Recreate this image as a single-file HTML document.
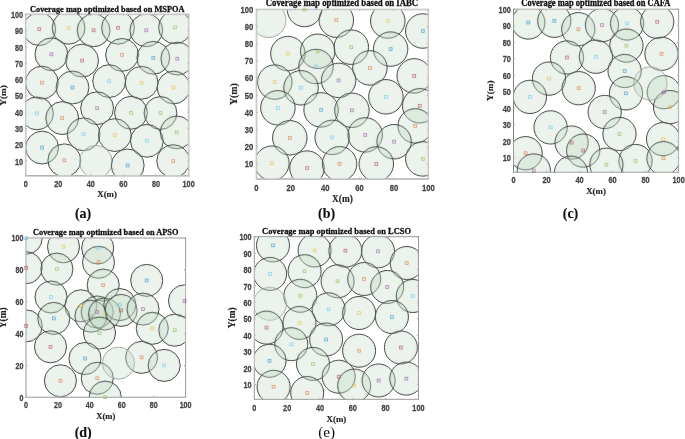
<!DOCTYPE html><html><head><meta charset="utf-8"><style>html,body{margin:0;padding:0;background:#fff;}svg{display:block;will-change:transform;}</style></head><body>
<svg width="685" height="439" viewBox="0 0 685 439">
<rect width="685" height="439" fill="#fff"/>
<defs>
<filter id="bl" x="0" y="0" width="1" height="1" color-interpolation-filters="sRGB"><feConvolveMatrix order="3" kernelMatrix="0.01917 0.10012 0.01917 0.10012 0.52283 0.10012 0.01917 0.10012 0.01917" edgeMode="duplicate" preserveAlpha="true"/></filter>
<clipPath id="ca"><rect x="25.65" y="14.4" width="162.95" height="161.4"/></clipPath>
<clipPath id="cb"><rect x="256.5" y="9.5" width="171.8" height="169.5"/></clipPath>
<clipPath id="cc"><rect x="513.5" y="9.2" width="165.1" height="163"/></clipPath>
<clipPath id="cd"><rect x="26" y="238" width="159.6" height="159.2"/></clipPath>
<clipPath id="ce"><rect x="254.3" y="236.7" width="164.15" height="162.6"/></clipPath>
</defs>
<g filter="url(#bl)">
<g clip-path="url(#ca)">
<circle cx="39.3" cy="29.1" r="16.42" fill="#bed7bf" fill-opacity="0.3" stroke="#303030" stroke-opacity="0.9" stroke-width="1.0"/>
<circle cx="68.6" cy="27.8" r="16.42" fill="#bed7bf" fill-opacity="0.3" stroke="#303030" stroke-opacity="0.9" stroke-width="1.0"/>
<circle cx="93.6" cy="30.3" r="16.42" fill="#bed7bf" fill-opacity="0.3" stroke="#303030" stroke-opacity="0.9" stroke-width="1.0"/>
<circle cx="118" cy="27.8" r="16.42" fill="#bed7bf" fill-opacity="0.3" stroke="#303030" stroke-opacity="0.9" stroke-width="1.0"/>
<circle cx="146.3" cy="30.3" r="16.42" fill="#bed7bf" fill-opacity="0.3" stroke="#303030" stroke-opacity="0.9" stroke-width="1.0"/>
<circle cx="175" cy="27.4" r="16.42" fill="#bed7bf" fill-opacity="0.3" stroke="#303030" stroke-opacity="0.9" stroke-width="1.0"/>
<circle cx="51.4" cy="54.3" r="16.42" fill="#bed7bf" fill-opacity="0.3" stroke="#303030" stroke-opacity="0.9" stroke-width="1.0"/>
<circle cx="82.1" cy="60.6" r="16.42" fill="#bed7bf" fill-opacity="0.3" stroke="#303030" stroke-opacity="0.9" stroke-width="1.0"/>
<circle cx="122.1" cy="54.9" r="16.42" fill="#bed7bf" fill-opacity="0.3" stroke="#303030" stroke-opacity="0.9" stroke-width="1.0"/>
<circle cx="153.3" cy="57.8" r="16.42" fill="#bed7bf" fill-opacity="0.3" stroke="#303030" stroke-opacity="0.9" stroke-width="1.0"/>
<circle cx="177.3" cy="58.6" r="16.42" fill="#bed7bf" fill-opacity="0.3" stroke="#303030" stroke-opacity="0.9" stroke-width="1.0"/>
<circle cx="41.9" cy="82.6" r="16.42" fill="#bed7bf" fill-opacity="0.3" stroke="#303030" stroke-opacity="0.9" stroke-width="1.0"/>
<circle cx="72.5" cy="87.5" r="16.42" fill="#bed7bf" fill-opacity="0.3" stroke="#303030" stroke-opacity="0.9" stroke-width="1.0"/>
<circle cx="109.2" cy="81.1" r="16.42" fill="#bed7bf" fill-opacity="0.3" stroke="#303030" stroke-opacity="0.9" stroke-width="1.0"/>
<circle cx="141.6" cy="82.8" r="16.42" fill="#bed7bf" fill-opacity="0.3" stroke="#303030" stroke-opacity="0.9" stroke-width="1.0"/>
<circle cx="173.6" cy="87.5" r="16.42" fill="#bed7bf" fill-opacity="0.3" stroke="#303030" stroke-opacity="0.9" stroke-width="1.0"/>
<circle cx="37" cy="113.4" r="16.42" fill="#bed7bf" fill-opacity="0.3" stroke="#303030" stroke-opacity="0.9" stroke-width="1.0"/>
<circle cx="62.2" cy="118.1" r="16.42" fill="#bed7bf" fill-opacity="0.3" stroke="#303030" stroke-opacity="0.9" stroke-width="1.0"/>
<circle cx="97.1" cy="108.2" r="16.42" fill="#bed7bf" fill-opacity="0.3" stroke="#303030" stroke-opacity="0.9" stroke-width="1.0"/>
<circle cx="131" cy="112.8" r="16.42" fill="#bed7bf" fill-opacity="0.3" stroke="#303030" stroke-opacity="0.9" stroke-width="1.0"/>
<circle cx="160.5" cy="113" r="16.42" fill="#bed7bf" fill-opacity="0.3" stroke="#303030" stroke-opacity="0.9" stroke-width="1.0"/>
<circle cx="83.6" cy="134.3" r="16.42" fill="#bed7bf" fill-opacity="0.3" stroke="#303030" stroke-opacity="0.9" stroke-width="1.0"/>
<circle cx="114.8" cy="135.1" r="16.42" fill="#bed7bf" fill-opacity="0.3" stroke="#303030" stroke-opacity="0.9" stroke-width="1.0"/>
<circle cx="146.9" cy="140.8" r="16.42" fill="#bed7bf" fill-opacity="0.3" stroke="#303030" stroke-opacity="0.9" stroke-width="1.0"/>
<circle cx="176.7" cy="132.4" r="16.42" fill="#bed7bf" fill-opacity="0.3" stroke="#303030" stroke-opacity="0.9" stroke-width="1.0"/>
<circle cx="42.1" cy="147.6" r="16.42" fill="#bed7bf" fill-opacity="0.3" stroke="#303030" stroke-opacity="0.9" stroke-width="1.0"/>
<circle cx="64.3" cy="160.3" r="16.42" fill="#bed7bf" fill-opacity="0.3" stroke="#303030" stroke-opacity="0.9" stroke-width="1.0"/>
<circle cx="95.9" cy="161.8" r="16.42" fill="#bed7bf" fill-opacity="0.3" stroke="#a0a0a0" stroke-width="0.8"/>
<circle cx="127.7" cy="165.4" r="16.42" fill="#bed7bf" fill-opacity="0.3" stroke="#303030" stroke-opacity="0.9" stroke-width="1.0"/>
<circle cx="173.2" cy="161.1" r="16.42" fill="#bed7bf" fill-opacity="0.3" stroke="#303030" stroke-opacity="0.9" stroke-width="1.0"/>
</g>
<rect x="25.65" y="14.4" width="162.95" height="161.4" fill="none" stroke="#cacaca" stroke-width="1.5"/>
<path d="M25.65 175.8v-1.6M25.65 14.4v1.6M58.24 175.8v-1.6M58.24 14.4v1.6M90.83 175.8v-1.6M90.83 14.4v1.6M123.42 175.8v-1.6M123.42 14.4v1.6M156.01 175.8v-1.6M156.01 14.4v1.6M188.6 175.8v-1.6M188.6 14.4v1.6M25.65 161.06h1.6M188.6 161.06h-1.6M25.65 144.76h1.6M188.6 144.76h-1.6M25.65 128.47h1.6M188.6 128.47h-1.6M25.65 112.17h1.6M188.6 112.17h-1.6M25.65 95.88h1.6M188.6 95.88h-1.6M25.65 79.58h1.6M188.6 79.58h-1.6M25.65 63.28h1.6M188.6 63.28h-1.6M25.65 46.99h1.6M188.6 46.99h-1.6M25.65 30.7h1.6M188.6 30.7h-1.6M25.65 14.4h1.6M188.6 14.4h-1.6" stroke="#b0b0b0" stroke-width="0.8" fill="none"/>
<rect x="37.9" y="27.7" width="2.8" height="2.8" fill="none" stroke="#A2142F" stroke-opacity="0.6" stroke-width="0.85"/>
<rect x="67.2" y="26.4" width="2.8" height="2.8" fill="none" stroke="#EDB120" stroke-opacity="0.6" stroke-width="0.85"/>
<rect x="92.2" y="28.9" width="2.8" height="2.8" fill="none" stroke="#A2142F" stroke-opacity="0.6" stroke-width="0.85"/>
<rect x="116.6" y="26.4" width="2.8" height="2.8" fill="none" stroke="#A2142F" stroke-opacity="0.6" stroke-width="0.85"/>
<rect x="144.9" y="28.9" width="2.8" height="2.8" fill="none" stroke="#7E2F8E" stroke-opacity="0.6" stroke-width="0.85"/>
<rect x="173.6" y="26" width="2.8" height="2.8" fill="none" stroke="#77AC30" stroke-opacity="0.6" stroke-width="0.85"/>
<rect x="50" y="52.9" width="2.8" height="2.8" fill="none" stroke="#7E2F8E" stroke-opacity="0.6" stroke-width="0.85"/>
<rect x="80.7" y="59.2" width="2.8" height="2.8" fill="none" stroke="#A2142F" stroke-opacity="0.6" stroke-width="0.85"/>
<rect x="120.7" y="53.5" width="2.8" height="2.8" fill="none" stroke="#D95319" stroke-opacity="0.6" stroke-width="0.85"/>
<rect x="151.9" y="56.4" width="2.8" height="2.8" fill="none" stroke="#0072BD" stroke-opacity="0.6" stroke-width="0.85"/>
<rect x="175.9" y="57.2" width="2.8" height="2.8" fill="none" stroke="#7E2F8E" stroke-opacity="0.6" stroke-width="0.85"/>
<rect x="40.5" y="81.2" width="2.8" height="2.8" fill="none" stroke="#D95319" stroke-opacity="0.6" stroke-width="0.85"/>
<rect x="71.1" y="86.1" width="2.8" height="2.8" fill="none" stroke="#0072BD" stroke-opacity="0.6" stroke-width="0.85"/>
<rect x="107.8" y="79.7" width="2.8" height="2.8" fill="none" stroke="#4DBEEE" stroke-opacity="0.6" stroke-width="0.85"/>
<rect x="140.2" y="81.4" width="2.8" height="2.8" fill="none" stroke="#EDB120" stroke-opacity="0.6" stroke-width="0.85"/>
<rect x="172.2" y="86.1" width="2.8" height="2.8" fill="none" stroke="#EDB120" stroke-opacity="0.6" stroke-width="0.85"/>
<rect x="35.6" y="112" width="2.8" height="2.8" fill="none" stroke="#4DBEEE" stroke-opacity="0.6" stroke-width="0.85"/>
<rect x="60.8" y="116.7" width="2.8" height="2.8" fill="none" stroke="#D95319" stroke-opacity="0.6" stroke-width="0.85"/>
<rect x="95.7" y="106.8" width="2.8" height="2.8" fill="none" stroke="#7E2F8E" stroke-opacity="0.6" stroke-width="0.85"/>
<rect x="129.6" y="111.4" width="2.8" height="2.8" fill="none" stroke="#77AC30" stroke-opacity="0.6" stroke-width="0.85"/>
<rect x="159.1" y="111.6" width="2.8" height="2.8" fill="none" stroke="#77AC30" stroke-opacity="0.6" stroke-width="0.85"/>
<rect x="82.2" y="132.9" width="2.8" height="2.8" fill="none" stroke="#4DBEEE" stroke-opacity="0.6" stroke-width="0.85"/>
<rect x="113.4" y="133.7" width="2.8" height="2.8" fill="none" stroke="#EDB120" stroke-opacity="0.6" stroke-width="0.85"/>
<rect x="145.5" y="139.4" width="2.8" height="2.8" fill="none" stroke="#4DBEEE" stroke-opacity="0.6" stroke-width="0.85"/>
<rect x="175.3" y="131" width="2.8" height="2.8" fill="none" stroke="#77AC30" stroke-opacity="0.6" stroke-width="0.85"/>
<rect x="40.7" y="146.2" width="2.8" height="2.8" fill="none" stroke="#0072BD" stroke-opacity="0.6" stroke-width="0.85"/>
<rect x="62.9" y="158.9" width="2.8" height="2.8" fill="none" stroke="#D95319" stroke-opacity="0.6" stroke-width="0.85"/>
<rect x="126.3" y="164" width="2.8" height="2.8" fill="none" stroke="#0072BD" stroke-opacity="0.6" stroke-width="0.85"/>
<rect x="171.8" y="159.7" width="2.8" height="2.8" fill="none" stroke="#D95319" stroke-opacity="0.6" stroke-width="0.85"/>
<g font-family="Liberation Sans" font-weight="bold" font-size="8.68" fill="#444444" stroke="#444444" stroke-width="0.25"><text transform="translate(25.65 187.21) scale(0.84 1)" text-anchor="middle">0</text><text transform="translate(58.24 187.21) scale(0.84 1)" text-anchor="middle">20</text><text transform="translate(90.83 187.21) scale(0.84 1)" text-anchor="middle">40</text><text transform="translate(123.42 187.21) scale(0.84 1)" text-anchor="middle">60</text><text transform="translate(156.01 187.21) scale(0.84 1)" text-anchor="middle">80</text><text transform="translate(188.6 187.21) scale(0.84 1)" text-anchor="middle">100</text><text transform="translate(23.05 164.67) scale(0.84 1)" text-anchor="end">10</text><text transform="translate(23.05 148.37) scale(0.84 1)" text-anchor="end">20</text><text transform="translate(23.05 132.08) scale(0.84 1)" text-anchor="end">30</text><text transform="translate(23.05 115.78) scale(0.84 1)" text-anchor="end">40</text><text transform="translate(23.05 99.49) scale(0.84 1)" text-anchor="end">50</text><text transform="translate(23.05 83.19) scale(0.84 1)" text-anchor="end">60</text><text transform="translate(23.05 66.9) scale(0.84 1)" text-anchor="end">70</text><text transform="translate(23.05 50.6) scale(0.84 1)" text-anchor="end">80</text><text transform="translate(23.05 34.31) scale(0.84 1)" text-anchor="end">90</text><text transform="translate(23.05 18.01) scale(0.84 1)" text-anchor="end">100</text></g>
<text x="30" y="11.75" textLength="154.5" lengthAdjust="spacingAndGlyphs" font-family="Liberation Serif" font-weight="bold" font-size="9.17" fill="#111" stroke="#111" stroke-width="0.3">Coverage map optimized based on MSPOA</text>
<text x="107.12" y="197.34" text-anchor="middle" font-family="Liberation Serif" font-weight="bold" font-size="8.9" fill="#262626" stroke="#262626" stroke-width="0.15">X(m)</text>
<text transform="translate(6.04 95.5) rotate(-90)" text-anchor="middle" font-family="Liberation Serif" font-weight="bold" font-size="9.2" fill="#262626" stroke="#262626" stroke-width="0.15">Y(m)</text>
<text x="83.1" y="218.3" text-anchor="middle" font-family="Liberation Serif" font-weight="bold" font-size="14" fill="#111" stroke="#111" stroke-width="0.12">(a)</text>
<g clip-path="url(#cb)">
<circle cx="268.7" cy="20.2" r="17.24" fill="#bed7bf" fill-opacity="0.3" stroke="#a0a0a0" stroke-width="0.8"/>
<circle cx="304.5" cy="9.5" r="17.24" fill="#bed7bf" fill-opacity="0.3" stroke="#303030" stroke-opacity="0.9" stroke-width="1.0"/>
<circle cx="336.3" cy="20.2" r="17.24" fill="#bed7bf" fill-opacity="0.3" stroke="#303030" stroke-opacity="0.9" stroke-width="1.0"/>
<circle cx="387.8" cy="21" r="17.24" fill="#bed7bf" fill-opacity="0.3" stroke="#303030" stroke-opacity="0.9" stroke-width="1.0"/>
<circle cx="422.8" cy="31" r="17.24" fill="#bed7bf" fill-opacity="0.3" stroke="#303030" stroke-opacity="0.9" stroke-width="1.0"/>
<circle cx="287.9" cy="53.6" r="17.24" fill="#bed7bf" fill-opacity="0.3" stroke="#303030" stroke-opacity="0.9" stroke-width="1.0"/>
<circle cx="317.7" cy="51.3" r="17.24" fill="#bed7bf" fill-opacity="0.3" stroke="#303030" stroke-opacity="0.9" stroke-width="1.0"/>
<circle cx="351.3" cy="47.2" r="17.24" fill="#bed7bf" fill-opacity="0.3" stroke="#303030" stroke-opacity="0.9" stroke-width="1.0"/>
<circle cx="390.6" cy="49.1" r="17.24" fill="#bed7bf" fill-opacity="0.3" stroke="#303030" stroke-opacity="0.9" stroke-width="1.0"/>
<circle cx="316" cy="66.5" r="17.24" fill="#bed7bf" fill-opacity="0.3" stroke="#303030" stroke-opacity="0.9" stroke-width="1.0"/>
<circle cx="369.9" cy="67.9" r="17.24" fill="#bed7bf" fill-opacity="0.3" stroke="#303030" stroke-opacity="0.9" stroke-width="1.0"/>
<circle cx="414.2" cy="75.9" r="17.24" fill="#bed7bf" fill-opacity="0.3" stroke="#303030" stroke-opacity="0.9" stroke-width="1.0"/>
<circle cx="274.8" cy="82.1" r="17.24" fill="#bed7bf" fill-opacity="0.3" stroke="#303030" stroke-opacity="0.9" stroke-width="1.0"/>
<circle cx="301" cy="87.8" r="17.24" fill="#bed7bf" fill-opacity="0.3" stroke="#303030" stroke-opacity="0.9" stroke-width="1.0"/>
<circle cx="338.6" cy="80.4" r="17.24" fill="#bed7bf" fill-opacity="0.3" stroke="#303030" stroke-opacity="0.9" stroke-width="1.0"/>
<circle cx="385.9" cy="96.8" r="17.24" fill="#bed7bf" fill-opacity="0.3" stroke="#303030" stroke-opacity="0.9" stroke-width="1.0"/>
<circle cx="419.7" cy="105.8" r="17.24" fill="#bed7bf" fill-opacity="0.3" stroke="#303030" stroke-opacity="0.9" stroke-width="1.0"/>
<circle cx="277.9" cy="107.8" r="17.24" fill="#bed7bf" fill-opacity="0.3" stroke="#303030" stroke-opacity="0.9" stroke-width="1.0"/>
<circle cx="321.1" cy="109.9" r="17.24" fill="#bed7bf" fill-opacity="0.3" stroke="#303030" stroke-opacity="0.9" stroke-width="1.0"/>
<circle cx="351.9" cy="110.3" r="17.24" fill="#bed7bf" fill-opacity="0.3" stroke="#303030" stroke-opacity="0.9" stroke-width="1.0"/>
<circle cx="415.2" cy="125.9" r="17.24" fill="#bed7bf" fill-opacity="0.3" stroke="#303030" stroke-opacity="0.9" stroke-width="1.0"/>
<circle cx="289.8" cy="137.8" r="17.24" fill="#bed7bf" fill-opacity="0.3" stroke="#303030" stroke-opacity="0.9" stroke-width="1.0"/>
<circle cx="332.2" cy="137.4" r="17.24" fill="#bed7bf" fill-opacity="0.3" stroke="#303030" stroke-opacity="0.9" stroke-width="1.0"/>
<circle cx="365.2" cy="134.9" r="17.24" fill="#bed7bf" fill-opacity="0.3" stroke="#303030" stroke-opacity="0.9" stroke-width="1.0"/>
<circle cx="394.1" cy="141.7" r="17.24" fill="#bed7bf" fill-opacity="0.3" stroke="#303030" stroke-opacity="0.9" stroke-width="1.0"/>
<circle cx="271.9" cy="163.2" r="17.24" fill="#bed7bf" fill-opacity="0.3" stroke="#303030" stroke-opacity="0.9" stroke-width="1.0"/>
<circle cx="307" cy="168.1" r="17.24" fill="#bed7bf" fill-opacity="0.3" stroke="#303030" stroke-opacity="0.9" stroke-width="1.0"/>
<circle cx="339.6" cy="163.8" r="17.24" fill="#bed7bf" fill-opacity="0.3" stroke="#303030" stroke-opacity="0.9" stroke-width="1.0"/>
<circle cx="376.3" cy="164" r="17.24" fill="#bed7bf" fill-opacity="0.3" stroke="#303030" stroke-opacity="0.9" stroke-width="1.0"/>
<circle cx="422.8" cy="158.9" r="17.24" fill="#bed7bf" fill-opacity="0.3" stroke="#303030" stroke-opacity="0.9" stroke-width="1.0"/>
</g>
<rect x="256.5" y="9.5" width="171.8" height="169.5" fill="none" stroke="#cacaca" stroke-width="1.5"/>
<path d="M256.5 179v-1.6M256.5 9.5v1.6M290.86 179v-1.6M290.86 9.5v1.6M325.22 179v-1.6M325.22 9.5v1.6M359.58 179v-1.6M359.58 9.5v1.6M393.94 179v-1.6M393.94 9.5v1.6M428.3 179v-1.6M428.3 9.5v1.6M256.5 164.12h1.6M428.3 164.12h-1.6M256.5 146.94h1.6M428.3 146.94h-1.6M256.5 129.76h1.6M428.3 129.76h-1.6M256.5 112.58h1.6M428.3 112.58h-1.6M256.5 95.4h1.6M428.3 95.4h-1.6M256.5 78.22h1.6M428.3 78.22h-1.6M256.5 61.04h1.6M428.3 61.04h-1.6M256.5 43.86h1.6M428.3 43.86h-1.6M256.5 26.68h1.6M428.3 26.68h-1.6M256.5 9.5h1.6M428.3 9.5h-1.6" stroke="#b0b0b0" stroke-width="0.8" fill="none"/>
<rect x="303.1" y="8.1" width="2.8" height="2.8" fill="none" stroke="#77AC30" stroke-opacity="0.6" stroke-width="0.85"/>
<rect x="334.9" y="18.8" width="2.8" height="2.8" fill="none" stroke="#D95319" stroke-opacity="0.6" stroke-width="0.85"/>
<rect x="386.4" y="19.6" width="2.8" height="2.8" fill="none" stroke="#EDB120" stroke-opacity="0.6" stroke-width="0.85"/>
<rect x="421.4" y="29.6" width="2.8" height="2.8" fill="none" stroke="#0072BD" stroke-opacity="0.6" stroke-width="0.85"/>
<rect x="286.5" y="52.2" width="2.8" height="2.8" fill="none" stroke="#EDB120" stroke-opacity="0.6" stroke-width="0.85"/>
<rect x="316.3" y="49.9" width="2.8" height="2.8" fill="none" stroke="#77AC30" stroke-opacity="0.6" stroke-width="0.85"/>
<rect x="349.9" y="45.8" width="2.8" height="2.8" fill="none" stroke="#77AC30" stroke-opacity="0.6" stroke-width="0.85"/>
<rect x="389.2" y="47.7" width="2.8" height="2.8" fill="none" stroke="#0072BD" stroke-opacity="0.6" stroke-width="0.85"/>
<rect x="314.6" y="65.1" width="2.8" height="2.8" fill="none" stroke="#4DBEEE" stroke-opacity="0.6" stroke-width="0.85"/>
<rect x="368.5" y="66.5" width="2.8" height="2.8" fill="none" stroke="#D95319" stroke-opacity="0.6" stroke-width="0.85"/>
<rect x="412.8" y="74.5" width="2.8" height="2.8" fill="none" stroke="#A2142F" stroke-opacity="0.6" stroke-width="0.85"/>
<rect x="273.4" y="80.7" width="2.8" height="2.8" fill="none" stroke="#EDB120" stroke-opacity="0.6" stroke-width="0.85"/>
<rect x="299.6" y="86.4" width="2.8" height="2.8" fill="none" stroke="#4DBEEE" stroke-opacity="0.6" stroke-width="0.85"/>
<rect x="337.2" y="79" width="2.8" height="2.8" fill="none" stroke="#7E2F8E" stroke-opacity="0.6" stroke-width="0.85"/>
<rect x="384.5" y="95.4" width="2.8" height="2.8" fill="none" stroke="#4DBEEE" stroke-opacity="0.6" stroke-width="0.85"/>
<rect x="418.3" y="104.4" width="2.8" height="2.8" fill="none" stroke="#A2142F" stroke-opacity="0.6" stroke-width="0.85"/>
<rect x="276.5" y="106.4" width="2.8" height="2.8" fill="none" stroke="#4DBEEE" stroke-opacity="0.6" stroke-width="0.85"/>
<rect x="319.7" y="108.5" width="2.8" height="2.8" fill="none" stroke="#0072BD" stroke-opacity="0.6" stroke-width="0.85"/>
<rect x="350.5" y="108.9" width="2.8" height="2.8" fill="none" stroke="#7E2F8E" stroke-opacity="0.6" stroke-width="0.85"/>
<rect x="413.8" y="124.5" width="2.8" height="2.8" fill="none" stroke="#D95319" stroke-opacity="0.6" stroke-width="0.85"/>
<rect x="288.4" y="136.4" width="2.8" height="2.8" fill="none" stroke="#D95319" stroke-opacity="0.6" stroke-width="0.85"/>
<rect x="330.8" y="136" width="2.8" height="2.8" fill="none" stroke="#4DBEEE" stroke-opacity="0.6" stroke-width="0.85"/>
<rect x="363.8" y="133.5" width="2.8" height="2.8" fill="none" stroke="#7E2F8E" stroke-opacity="0.6" stroke-width="0.85"/>
<rect x="392.7" y="140.3" width="2.8" height="2.8" fill="none" stroke="#7E2F8E" stroke-opacity="0.6" stroke-width="0.85"/>
<rect x="270.5" y="161.8" width="2.8" height="2.8" fill="none" stroke="#EDB120" stroke-opacity="0.6" stroke-width="0.85"/>
<rect x="305.6" y="166.7" width="2.8" height="2.8" fill="none" stroke="#A2142F" stroke-opacity="0.6" stroke-width="0.85"/>
<rect x="338.2" y="162.4" width="2.8" height="2.8" fill="none" stroke="#D95319" stroke-opacity="0.6" stroke-width="0.85"/>
<rect x="374.9" y="162.6" width="2.8" height="2.8" fill="none" stroke="#A2142F" stroke-opacity="0.6" stroke-width="0.85"/>
<rect x="421.4" y="157.5" width="2.8" height="2.8" fill="none" stroke="#77AC30" stroke-opacity="0.6" stroke-width="0.85"/>
<g font-family="Liberation Sans" font-weight="bold" font-size="9.15" fill="#444444" stroke="#444444" stroke-width="0.25"><text transform="translate(256.5 190.77) scale(0.84 1)" text-anchor="middle">0</text><text transform="translate(290.86 190.77) scale(0.84 1)" text-anchor="middle">20</text><text transform="translate(325.22 190.77) scale(0.84 1)" text-anchor="middle">40</text><text transform="translate(359.58 190.77) scale(0.84 1)" text-anchor="middle">60</text><text transform="translate(393.94 190.77) scale(0.84 1)" text-anchor="middle">80</text><text transform="translate(428.3 190.77) scale(0.84 1)" text-anchor="middle">100</text><text transform="translate(253.3 167.29) scale(0.84 1)" text-anchor="end">10</text><text transform="translate(253.3 150.11) scale(0.84 1)" text-anchor="end">20</text><text transform="translate(253.3 132.93) scale(0.84 1)" text-anchor="end">30</text><text transform="translate(253.3 115.75) scale(0.84 1)" text-anchor="end">40</text><text transform="translate(253.3 98.57) scale(0.84 1)" text-anchor="end">50</text><text transform="translate(253.3 81.39) scale(0.84 1)" text-anchor="end">60</text><text transform="translate(253.3 64.21) scale(0.84 1)" text-anchor="end">70</text><text transform="translate(253.3 47.03) scale(0.84 1)" text-anchor="end">80</text><text transform="translate(253.3 29.85) scale(0.84 1)" text-anchor="end">90</text><text transform="translate(253.3 12.67) scale(0.84 1)" text-anchor="end">100</text></g>
<text x="265.8" y="6.2" textLength="152.4" lengthAdjust="spacingAndGlyphs" font-family="Liberation Serif" font-weight="bold" font-size="9.67" fill="#111" stroke="#111" stroke-width="0.3">Coverage map optimized based on IABC</text>
<text x="342.4" y="201.5" text-anchor="middle" font-family="Liberation Serif" font-weight="bold" font-size="9.4" fill="#262626" stroke="#262626" stroke-width="0.15">X(m)</text>
<text transform="translate(237.17 94.1) rotate(-90)" text-anchor="middle" font-family="Liberation Serif" font-weight="bold" font-size="9.9" fill="#262626" stroke="#262626" stroke-width="0.15">Y(m)</text>
<text x="326.6" y="217.6" text-anchor="middle" font-family="Liberation Serif" font-weight="bold" font-size="14" fill="#111" stroke="#111" stroke-width="0.12">(b)</text>
<g clip-path="url(#cc)">
<circle cx="528.3" cy="22.5" r="16.64" fill="#bed7bf" fill-opacity="0.3" stroke="#303030" stroke-opacity="0.9" stroke-width="1.0"/>
<circle cx="554.3" cy="20.8" r="16.64" fill="#bed7bf" fill-opacity="0.3" stroke="#303030" stroke-opacity="0.9" stroke-width="1.0"/>
<circle cx="578.3" cy="29.2" r="16.64" fill="#bed7bf" fill-opacity="0.3" stroke="#303030" stroke-opacity="0.9" stroke-width="1.0"/>
<circle cx="602" cy="25.1" r="16.64" fill="#bed7bf" fill-opacity="0.3" stroke="#303030" stroke-opacity="0.9" stroke-width="1.0"/>
<circle cx="627.1" cy="23.5" r="16.64" fill="#bed7bf" fill-opacity="0.3" stroke="#303030" stroke-opacity="0.9" stroke-width="1.0"/>
<circle cx="657.2" cy="21.8" r="16.64" fill="#bed7bf" fill-opacity="0.3" stroke="#303030" stroke-opacity="0.9" stroke-width="1.0"/>
<circle cx="626.4" cy="45.6" r="16.64" fill="#bed7bf" fill-opacity="0.3" stroke="#303030" stroke-opacity="0.9" stroke-width="1.0"/>
<circle cx="661.5" cy="53.8" r="16.64" fill="#bed7bf" fill-opacity="0.3" stroke="#303030" stroke-opacity="0.9" stroke-width="1.0"/>
<circle cx="567" cy="57.5" r="16.64" fill="#bed7bf" fill-opacity="0.3" stroke="#303030" stroke-opacity="0.9" stroke-width="1.0"/>
<circle cx="595.9" cy="56.7" r="16.64" fill="#bed7bf" fill-opacity="0.3" stroke="#303030" stroke-opacity="0.9" stroke-width="1.0"/>
<circle cx="624.6" cy="71" r="16.64" fill="#bed7bf" fill-opacity="0.3" stroke="#303030" stroke-opacity="0.9" stroke-width="1.0"/>
<circle cx="549" cy="78.6" r="16.64" fill="#bed7bf" fill-opacity="0.3" stroke="#303030" stroke-opacity="0.9" stroke-width="1.0"/>
<circle cx="578.7" cy="88.2" r="16.64" fill="#bed7bf" fill-opacity="0.3" stroke="#303030" stroke-opacity="0.9" stroke-width="1.0"/>
<circle cx="626" cy="93.3" r="16.64" fill="#bed7bf" fill-opacity="0.3" stroke="#303030" stroke-opacity="0.9" stroke-width="1.0"/>
<circle cx="663.8" cy="92.2" r="16.64" fill="#bed7bf" fill-opacity="0.3" stroke="#303030" stroke-opacity="0.9" stroke-width="1.0"/>
<circle cx="529.9" cy="96.9" r="16.64" fill="#bed7bf" fill-opacity="0.3" stroke="#303030" stroke-opacity="0.9" stroke-width="1.0"/>
<circle cx="670.1" cy="107.1" r="16.64" fill="#bed7bf" fill-opacity="0.3" stroke="#303030" stroke-opacity="0.9" stroke-width="1.0"/>
<circle cx="604.7" cy="112" r="16.64" fill="#bed7bf" fill-opacity="0.3" stroke="#303030" stroke-opacity="0.9" stroke-width="1.0"/>
<circle cx="550.6" cy="127.4" r="16.64" fill="#bed7bf" fill-opacity="0.3" stroke="#303030" stroke-opacity="0.9" stroke-width="1.0"/>
<circle cx="619.5" cy="134" r="16.64" fill="#bed7bf" fill-opacity="0.3" stroke="#303030" stroke-opacity="0.9" stroke-width="1.0"/>
<circle cx="571.6" cy="142.6" r="16.64" fill="#bed7bf" fill-opacity="0.3" stroke="#303030" stroke-opacity="0.9" stroke-width="1.0"/>
<circle cx="583.2" cy="150.6" r="16.64" fill="#bed7bf" fill-opacity="0.3" stroke="#303030" stroke-opacity="0.9" stroke-width="1.0"/>
<circle cx="525.6" cy="153.2" r="16.64" fill="#bed7bf" fill-opacity="0.3" stroke="#303030" stroke-opacity="0.9" stroke-width="1.0"/>
<circle cx="533.8" cy="170.5" r="16.64" fill="#bed7bf" fill-opacity="0.3" stroke="#303030" stroke-opacity="0.9" stroke-width="1.0"/>
<circle cx="635.5" cy="161" r="16.64" fill="#bed7bf" fill-opacity="0.3" stroke="#303030" stroke-opacity="0.9" stroke-width="1.0"/>
<circle cx="606.4" cy="164.7" r="16.64" fill="#bed7bf" fill-opacity="0.3" stroke="#303030" stroke-opacity="0.9" stroke-width="1.0"/>
<circle cx="663.1" cy="139.1" r="16.64" fill="#bed7bf" fill-opacity="0.3" stroke="#303030" stroke-opacity="0.9" stroke-width="1.0"/>
<circle cx="663.5" cy="158.2" r="16.64" fill="#bed7bf" fill-opacity="0.3" stroke="#303030" stroke-opacity="0.9" stroke-width="1.0"/>
<circle cx="650.4" cy="83.5" r="16.64" fill="#bed7bf" fill-opacity="0.3" stroke="#a0a0a0" stroke-width="0.8"/>
<circle cx="571" cy="172.7" r="16.64" fill="#bed7bf" fill-opacity="0.3" stroke="#303030" stroke-opacity="0.9" stroke-width="1.0"/>
</g>
<rect x="513.5" y="9.2" width="165.1" height="163" fill="none" stroke="#b0b0b0" stroke-width="1.0"/>
<path d="M513.5 172.2v-1.6M513.5 9.2v1.6M546.52 172.2v-1.6M546.52 9.2v1.6M579.54 172.2v-1.6M579.54 9.2v1.6M612.56 172.2v-1.6M612.56 9.2v1.6M645.58 172.2v-1.6M645.58 9.2v1.6M678.6 172.2v-1.6M678.6 9.2v1.6M513.5 157.79h1.6M678.6 157.79h-1.6M513.5 141.28h1.6M678.6 141.28h-1.6M513.5 124.77h1.6M678.6 124.77h-1.6M513.5 108.26h1.6M678.6 108.26h-1.6M513.5 91.75h1.6M678.6 91.75h-1.6M513.5 75.24h1.6M678.6 75.24h-1.6M513.5 58.73h1.6M678.6 58.73h-1.6M513.5 42.22h1.6M678.6 42.22h-1.6M513.5 25.71h1.6M678.6 25.71h-1.6M513.5 9.2h1.6M678.6 9.2h-1.6" stroke="#b0b0b0" stroke-width="0.8" fill="none"/>
<rect x="526.9" y="21.1" width="2.8" height="2.8" fill="none" stroke="#0072BD" stroke-opacity="0.6" stroke-width="0.85"/>
<rect x="552.9" y="19.4" width="2.8" height="2.8" fill="none" stroke="#0072BD" stroke-opacity="0.6" stroke-width="0.85"/>
<rect x="576.9" y="27.8" width="2.8" height="2.8" fill="none" stroke="#D95319" stroke-opacity="0.6" stroke-width="0.85"/>
<rect x="600.6" y="23.7" width="2.8" height="2.8" fill="none" stroke="#7E2F8E" stroke-opacity="0.6" stroke-width="0.85"/>
<rect x="625.7" y="22.1" width="2.8" height="2.8" fill="none" stroke="#4DBEEE" stroke-opacity="0.6" stroke-width="0.85"/>
<rect x="655.8" y="20.4" width="2.8" height="2.8" fill="none" stroke="#A2142F" stroke-opacity="0.6" stroke-width="0.85"/>
<rect x="625" y="44.2" width="2.8" height="2.8" fill="none" stroke="#77AC30" stroke-opacity="0.6" stroke-width="0.85"/>
<rect x="660.1" y="52.4" width="2.8" height="2.8" fill="none" stroke="#D95319" stroke-opacity="0.6" stroke-width="0.85"/>
<rect x="565.6" y="56.1" width="2.8" height="2.8" fill="none" stroke="#A2142F" stroke-opacity="0.6" stroke-width="0.85"/>
<rect x="594.5" y="55.3" width="2.8" height="2.8" fill="none" stroke="#4DBEEE" stroke-opacity="0.6" stroke-width="0.85"/>
<rect x="623.2" y="69.6" width="2.8" height="2.8" fill="none" stroke="#0072BD" stroke-opacity="0.6" stroke-width="0.85"/>
<rect x="547.6" y="77.2" width="2.8" height="2.8" fill="none" stroke="#EDB120" stroke-opacity="0.6" stroke-width="0.85"/>
<rect x="577.3" y="86.8" width="2.8" height="2.8" fill="none" stroke="#D95319" stroke-opacity="0.6" stroke-width="0.85"/>
<rect x="624.6" y="91.9" width="2.8" height="2.8" fill="none" stroke="#0072BD" stroke-opacity="0.6" stroke-width="0.85"/>
<rect x="662.4" y="90.8" width="2.8" height="2.8" fill="none" stroke="#7E2F8E" stroke-opacity="0.6" stroke-width="0.85"/>
<rect x="528.5" y="95.5" width="2.8" height="2.8" fill="none" stroke="#4DBEEE" stroke-opacity="0.6" stroke-width="0.85"/>
<rect x="668.7" y="105.7" width="2.8" height="2.8" fill="none" stroke="#EDB120" stroke-opacity="0.6" stroke-width="0.85"/>
<rect x="603.3" y="110.6" width="2.8" height="2.8" fill="none" stroke="#7E2F8E" stroke-opacity="0.6" stroke-width="0.85"/>
<rect x="549.2" y="126" width="2.8" height="2.8" fill="none" stroke="#4DBEEE" stroke-opacity="0.6" stroke-width="0.85"/>
<rect x="618.1" y="132.6" width="2.8" height="2.8" fill="none" stroke="#77AC30" stroke-opacity="0.6" stroke-width="0.85"/>
<rect x="570.2" y="141.2" width="2.8" height="2.8" fill="none" stroke="#A2142F" stroke-opacity="0.6" stroke-width="0.85"/>
<rect x="581.8" y="149.2" width="2.8" height="2.8" fill="none" stroke="#A2142F" stroke-opacity="0.6" stroke-width="0.85"/>
<rect x="524.2" y="151.8" width="2.8" height="2.8" fill="none" stroke="#D95319" stroke-opacity="0.6" stroke-width="0.85"/>
<rect x="532.4" y="169.1" width="2.8" height="2.8" fill="none" stroke="#7E2F8E" stroke-opacity="0.6" stroke-width="0.85"/>
<rect x="634.1" y="159.6" width="2.8" height="2.8" fill="none" stroke="#77AC30" stroke-opacity="0.6" stroke-width="0.85"/>
<rect x="605" y="163.3" width="2.8" height="2.8" fill="none" stroke="#77AC30" stroke-opacity="0.6" stroke-width="0.85"/>
<rect x="661.7" y="137.7" width="2.8" height="2.8" fill="none" stroke="#EDB120" stroke-opacity="0.6" stroke-width="0.85"/>
<rect x="662.1" y="156.8" width="2.8" height="2.8" fill="none" stroke="#D95319" stroke-opacity="0.6" stroke-width="0.85"/>
<g font-family="Liberation Sans" font-weight="bold" font-size="8.79" fill="#444444" stroke="#444444" stroke-width="0.25"><text transform="translate(513.5 183.45) scale(0.84 1)" text-anchor="middle">0</text><text transform="translate(546.52 183.45) scale(0.84 1)" text-anchor="middle">20</text><text transform="translate(579.54 183.45) scale(0.84 1)" text-anchor="middle">40</text><text transform="translate(612.56 183.45) scale(0.84 1)" text-anchor="middle">60</text><text transform="translate(645.58 183.45) scale(0.84 1)" text-anchor="middle">80</text><text transform="translate(678.6 183.45) scale(0.84 1)" text-anchor="middle">100</text><text transform="translate(510.9 161.44) scale(0.84 1)" text-anchor="end">10</text><text transform="translate(510.9 144.93) scale(0.84 1)" text-anchor="end">20</text><text transform="translate(510.9 128.42) scale(0.84 1)" text-anchor="end">30</text><text transform="translate(510.9 111.91) scale(0.84 1)" text-anchor="end">40</text><text transform="translate(510.9 95.4) scale(0.84 1)" text-anchor="end">50</text><text transform="translate(510.9 78.89) scale(0.84 1)" text-anchor="end">60</text><text transform="translate(510.9 62.38) scale(0.84 1)" text-anchor="end">70</text><text transform="translate(510.9 45.87) scale(0.84 1)" text-anchor="end">80</text><text transform="translate(510.9 29.36) scale(0.84 1)" text-anchor="end">90</text><text transform="translate(510.9 12.85) scale(0.84 1)" text-anchor="end">100</text></g>
<text x="521.3" y="6" textLength="149.2" lengthAdjust="spacingAndGlyphs" font-family="Liberation Serif" font-weight="bold" font-size="9.3" fill="#111" stroke="#111" stroke-width="0.3">Coverage map optimized based on CAFA</text>
<text x="596.05" y="194.04" text-anchor="middle" font-family="Liberation Serif" font-weight="bold" font-size="8.9" fill="#262626" stroke="#262626" stroke-width="0.15">X(m)</text>
<text transform="translate(493.44 90.7) rotate(-90)" text-anchor="middle" font-family="Liberation Serif" font-weight="bold" font-size="9.2" fill="#262626" stroke="#262626" stroke-width="0.15">Y(m)</text>
<text x="570.5" y="217.7" text-anchor="middle" font-family="Liberation Serif" font-weight="bold" font-size="14" fill="#111" stroke="#111" stroke-width="0.12">(c)</text>
<g clip-path="url(#cd)">
<circle cx="26.2" cy="238.2" r="16.04" fill="#bed7bf" fill-opacity="0.3" stroke="#303030" stroke-opacity="0.9" stroke-width="1.0"/>
<circle cx="63.5" cy="246.8" r="16.04" fill="#bed7bf" fill-opacity="0.3" stroke="#303030" stroke-opacity="0.9" stroke-width="1.0"/>
<circle cx="97.7" cy="248" r="16.04" fill="#bed7bf" fill-opacity="0.3" stroke="#303030" stroke-opacity="0.9" stroke-width="1.0"/>
<circle cx="26.2" cy="267.7" r="16.04" fill="#bed7bf" fill-opacity="0.3" stroke="#303030" stroke-opacity="0.9" stroke-width="1.0"/>
<circle cx="56.9" cy="269.1" r="16.04" fill="#bed7bf" fill-opacity="0.3" stroke="#303030" stroke-opacity="0.9" stroke-width="1.0"/>
<circle cx="98.5" cy="262.3" r="16.04" fill="#bed7bf" fill-opacity="0.3" stroke="#303030" stroke-opacity="0.9" stroke-width="1.0"/>
<circle cx="103.2" cy="285.1" r="16.04" fill="#bed7bf" fill-opacity="0.3" stroke="#303030" stroke-opacity="0.9" stroke-width="1.0"/>
<circle cx="146.7" cy="280.4" r="16.04" fill="#bed7bf" fill-opacity="0.3" stroke="#303030" stroke-opacity="0.9" stroke-width="1.0"/>
<circle cx="51" cy="297" r="16.04" fill="#bed7bf" fill-opacity="0.3" stroke="#303030" stroke-opacity="0.9" stroke-width="1.0"/>
<circle cx="80.9" cy="305.8" r="16.04" fill="#bed7bf" fill-opacity="0.3" stroke="#303030" stroke-opacity="0.9" stroke-width="1.0"/>
<circle cx="97.2" cy="312" r="16.04" fill="#bed7bf" fill-opacity="0.3" stroke="#303030" stroke-opacity="0.9" stroke-width="1.0"/>
<circle cx="90.9" cy="316.2" r="16.04" fill="#bed7bf" fill-opacity="0.3" stroke="#303030" stroke-opacity="0.9" stroke-width="1.0"/>
<circle cx="104.5" cy="314" r="16.04" fill="#bed7bf" fill-opacity="0.3" stroke="#303030" stroke-opacity="0.9" stroke-width="1.0"/>
<circle cx="119.8" cy="304.6" r="16.04" fill="#bed7bf" fill-opacity="0.3" stroke="#303030" stroke-opacity="0.9" stroke-width="1.0"/>
<circle cx="121.1" cy="310.4" r="16.04" fill="#bed7bf" fill-opacity="0.3" stroke="#303030" stroke-opacity="0.9" stroke-width="1.0"/>
<circle cx="143" cy="309.1" r="16.04" fill="#bed7bf" fill-opacity="0.3" stroke="#303030" stroke-opacity="0.9" stroke-width="1.0"/>
<circle cx="184.5" cy="300.9" r="16.04" fill="#bed7bf" fill-opacity="0.3" stroke="#303030" stroke-opacity="0.9" stroke-width="1.0"/>
<circle cx="26.2" cy="325.9" r="16.04" fill="#bed7bf" fill-opacity="0.3" stroke="#303030" stroke-opacity="0.9" stroke-width="1.0"/>
<circle cx="53.8" cy="318.4" r="16.04" fill="#bed7bf" fill-opacity="0.3" stroke="#303030" stroke-opacity="0.9" stroke-width="1.0"/>
<circle cx="99.5" cy="333" r="16.04" fill="#bed7bf" fill-opacity="0.3" stroke="#303030" stroke-opacity="0.9" stroke-width="1.0"/>
<circle cx="152.3" cy="328.3" r="16.04" fill="#bed7bf" fill-opacity="0.3" stroke="#303030" stroke-opacity="0.9" stroke-width="1.0"/>
<circle cx="174.8" cy="330.2" r="16.04" fill="#bed7bf" fill-opacity="0.3" stroke="#303030" stroke-opacity="0.9" stroke-width="1.0"/>
<circle cx="50.5" cy="346.8" r="16.04" fill="#bed7bf" fill-opacity="0.3" stroke="#303030" stroke-opacity="0.9" stroke-width="1.0"/>
<circle cx="85" cy="358.5" r="16.04" fill="#bed7bf" fill-opacity="0.3" stroke="#303030" stroke-opacity="0.9" stroke-width="1.0"/>
<circle cx="141.6" cy="357.4" r="16.04" fill="#bed7bf" fill-opacity="0.3" stroke="#303030" stroke-opacity="0.9" stroke-width="1.0"/>
<circle cx="164.2" cy="365.4" r="16.04" fill="#bed7bf" fill-opacity="0.3" stroke="#303030" stroke-opacity="0.9" stroke-width="1.0"/>
<circle cx="97.3" cy="378.3" r="16.04" fill="#bed7bf" fill-opacity="0.3" stroke="#303030" stroke-opacity="0.9" stroke-width="1.0"/>
<circle cx="60.4" cy="380.8" r="16.04" fill="#bed7bf" fill-opacity="0.3" stroke="#303030" stroke-opacity="0.9" stroke-width="1.0"/>
<circle cx="105.2" cy="397.1" r="16.04" fill="#bed7bf" fill-opacity="0.3" stroke="#303030" stroke-opacity="0.9" stroke-width="1.0"/>
<circle cx="118.5" cy="363.2" r="16.04" fill="#bed7bf" fill-opacity="0.3" stroke="#a0a0a0" stroke-width="0.8"/>
</g>
<rect x="26" y="238" width="159.6" height="159.2" fill="none" stroke="#b0b0b0" stroke-width="1.0"/>
<path d="M26 397.2v-1.6M26 238v1.6M57.92 397.2v-1.6M57.92 238v1.6M89.84 397.2v-1.6M89.84 238v1.6M121.76 397.2v-1.6M121.76 238v1.6M153.68 397.2v-1.6M153.68 238v1.6M185.6 397.2v-1.6M185.6 238v1.6M26 365.68h1.6M185.6 365.68h-1.6M26 333.76h1.6M185.6 333.76h-1.6M26 301.84h1.6M185.6 301.84h-1.6M26 269.92h1.6M185.6 269.92h-1.6M26 238h1.6M185.6 238h-1.6" stroke="#b0b0b0" stroke-width="0.8" fill="none"/>
<rect x="24.8" y="236.8" width="2.8" height="2.8" fill="none" stroke="#4DBEEE" stroke-opacity="0.6" stroke-width="0.85"/>
<rect x="62.1" y="245.4" width="2.8" height="2.8" fill="none" stroke="#EDB120" stroke-opacity="0.6" stroke-width="0.85"/>
<rect x="96.3" y="246.6" width="2.8" height="2.8" fill="none" stroke="#4DBEEE" stroke-opacity="0.6" stroke-width="0.85"/>
<rect x="24.8" y="266.3" width="2.8" height="2.8" fill="none" stroke="#A2142F" stroke-opacity="0.6" stroke-width="0.85"/>
<rect x="55.5" y="267.7" width="2.8" height="2.8" fill="none" stroke="#77AC30" stroke-opacity="0.6" stroke-width="0.85"/>
<rect x="97.1" y="260.9" width="2.8" height="2.8" fill="none" stroke="#D95319" stroke-opacity="0.6" stroke-width="0.85"/>
<rect x="101.8" y="283.7" width="2.8" height="2.8" fill="none" stroke="#D95319" stroke-opacity="0.6" stroke-width="0.85"/>
<rect x="145.3" y="279" width="2.8" height="2.8" fill="none" stroke="#0072BD" stroke-opacity="0.6" stroke-width="0.85"/>
<rect x="49.6" y="295.6" width="2.8" height="2.8" fill="none" stroke="#4DBEEE" stroke-opacity="0.6" stroke-width="0.85"/>
<rect x="79.5" y="304.4" width="2.8" height="2.8" fill="none" stroke="#EDB120" stroke-opacity="0.6" stroke-width="0.85"/>
<rect x="95.8" y="310.6" width="2.8" height="2.8" fill="none" stroke="#7E2F8E" stroke-opacity="0.6" stroke-width="0.85"/>
<rect x="89.5" y="314.8" width="2.8" height="2.8" fill="none" stroke="#7E2F8E" stroke-opacity="0.3" stroke-width="0.85"/>
<rect x="103.1" y="312.6" width="2.8" height="2.8" fill="none" stroke="#EDB120" stroke-opacity="0.3" stroke-width="0.85"/>
<rect x="118.4" y="303.2" width="2.8" height="2.8" fill="none" stroke="#4DBEEE" stroke-opacity="0.6" stroke-width="0.85"/>
<rect x="119.7" y="309" width="2.8" height="2.8" fill="none" stroke="#A2142F" stroke-opacity="0.6" stroke-width="0.85"/>
<rect x="141.6" y="307.7" width="2.8" height="2.8" fill="none" stroke="#7E2F8E" stroke-opacity="0.6" stroke-width="0.85"/>
<rect x="183.1" y="299.5" width="2.8" height="2.8" fill="none" stroke="#7E2F8E" stroke-opacity="0.6" stroke-width="0.85"/>
<rect x="24.8" y="324.5" width="2.8" height="2.8" fill="none" stroke="#A2142F" stroke-opacity="0.6" stroke-width="0.85"/>
<rect x="52.4" y="317" width="2.8" height="2.8" fill="none" stroke="#0072BD" stroke-opacity="0.6" stroke-width="0.85"/>
<rect x="98.1" y="331.6" width="2.8" height="2.8" fill="none" stroke="#77AC30" stroke-opacity="0.6" stroke-width="0.85"/>
<rect x="150.9" y="326.9" width="2.8" height="2.8" fill="none" stroke="#EDB120" stroke-opacity="0.6" stroke-width="0.85"/>
<rect x="173.4" y="328.8" width="2.8" height="2.8" fill="none" stroke="#77AC30" stroke-opacity="0.6" stroke-width="0.85"/>
<rect x="49.1" y="345.4" width="2.8" height="2.8" fill="none" stroke="#A2142F" stroke-opacity="0.6" stroke-width="0.85"/>
<rect x="83.6" y="357.1" width="2.8" height="2.8" fill="none" stroke="#0072BD" stroke-opacity="0.6" stroke-width="0.85"/>
<rect x="140.2" y="356" width="2.8" height="2.8" fill="none" stroke="#D95319" stroke-opacity="0.6" stroke-width="0.85"/>
<rect x="162.8" y="364" width="2.8" height="2.8" fill="none" stroke="#4DBEEE" stroke-opacity="0.6" stroke-width="0.85"/>
<rect x="95.9" y="376.9" width="2.8" height="2.8" fill="none" stroke="#D95319" stroke-opacity="0.6" stroke-width="0.85"/>
<rect x="59" y="379.4" width="2.8" height="2.8" fill="none" stroke="#D95319" stroke-opacity="0.6" stroke-width="0.85"/>
<rect x="103.8" y="395.7" width="2.8" height="2.8" fill="none" stroke="#77AC30" stroke-opacity="0.6" stroke-width="0.85"/>
<g font-family="Liberation Sans" font-weight="bold" font-size="8.5" fill="#444444" stroke="#444444" stroke-width="0.25"><text transform="translate(26 408.45) scale(0.84 1)" text-anchor="middle">0</text><text transform="translate(57.92 408.45) scale(0.84 1)" text-anchor="middle">20</text><text transform="translate(89.84 408.45) scale(0.84 1)" text-anchor="middle">40</text><text transform="translate(121.76 408.45) scale(0.84 1)" text-anchor="middle">60</text><text transform="translate(153.68 408.45) scale(0.84 1)" text-anchor="middle">80</text><text transform="translate(185.6 408.45) scale(0.84 1)" text-anchor="middle">100</text><text transform="translate(23.4 400.55) scale(0.84 1)" text-anchor="end">0</text><text transform="translate(23.4 368.63) scale(0.84 1)" text-anchor="end">20</text><text transform="translate(23.4 336.71) scale(0.84 1)" text-anchor="end">40</text><text transform="translate(23.4 304.79) scale(0.84 1)" text-anchor="end">60</text><text transform="translate(23.4 272.87) scale(0.84 1)" text-anchor="end">80</text><text transform="translate(23.4 240.95) scale(0.84 1)" text-anchor="end">100</text></g>
<text x="33.1" y="235" textLength="145.3" lengthAdjust="spacingAndGlyphs" font-family="Liberation Serif" font-weight="bold" font-size="8.99" fill="#111" stroke="#111" stroke-width="0.3">Coverage map optimized based on APSO</text>
<text x="105.8" y="419.14" text-anchor="middle" font-family="Liberation Serif" font-weight="bold" font-size="8.6" fill="#262626" stroke="#262626" stroke-width="0.15">X(m)</text>
<text transform="translate(6.12 317.8) rotate(-90)" text-anchor="middle" font-family="Liberation Serif" font-weight="bold" font-size="9.45" fill="#262626" stroke="#262626" stroke-width="0.15">Y(m)</text>
<text x="83.2" y="436.6" text-anchor="middle" font-family="Liberation Serif" font-weight="bold" font-size="14" fill="#111" stroke="#111" stroke-width="0.12">(d)</text>
<g clip-path="url(#ce)">
<circle cx="273" cy="245.4" r="16.52" fill="#bed7bf" fill-opacity="0.3" stroke="#303030" stroke-opacity="0.9" stroke-width="1.0"/>
<circle cx="314.6" cy="250.5" r="16.52" fill="#bed7bf" fill-opacity="0.3" stroke="#303030" stroke-opacity="0.9" stroke-width="1.0"/>
<circle cx="345.4" cy="250.7" r="16.52" fill="#bed7bf" fill-opacity="0.3" stroke="#303030" stroke-opacity="0.9" stroke-width="1.0"/>
<circle cx="378" cy="251.3" r="16.52" fill="#bed7bf" fill-opacity="0.3" stroke="#303030" stroke-opacity="0.9" stroke-width="1.0"/>
<circle cx="406.7" cy="263" r="16.52" fill="#bed7bf" fill-opacity="0.3" stroke="#303030" stroke-opacity="0.9" stroke-width="1.0"/>
<circle cx="270.1" cy="273.9" r="16.52" fill="#bed7bf" fill-opacity="0.3" stroke="#303030" stroke-opacity="0.9" stroke-width="1.0"/>
<circle cx="304.6" cy="271.2" r="16.52" fill="#bed7bf" fill-opacity="0.3" stroke="#303030" stroke-opacity="0.9" stroke-width="1.0"/>
<circle cx="337.6" cy="281.3" r="16.52" fill="#bed7bf" fill-opacity="0.3" stroke="#303030" stroke-opacity="0.9" stroke-width="1.0"/>
<circle cx="364.2" cy="279" r="16.52" fill="#bed7bf" fill-opacity="0.3" stroke="#303030" stroke-opacity="0.9" stroke-width="1.0"/>
<circle cx="387.2" cy="287" r="16.52" fill="#bed7bf" fill-opacity="0.3" stroke="#303030" stroke-opacity="0.9" stroke-width="1.0"/>
<circle cx="412.8" cy="296" r="16.52" fill="#bed7bf" fill-opacity="0.3" stroke="#303030" stroke-opacity="0.9" stroke-width="1.0"/>
<circle cx="300.3" cy="295.8" r="16.52" fill="#bed7bf" fill-opacity="0.3" stroke="#303030" stroke-opacity="0.9" stroke-width="1.0"/>
<circle cx="328.6" cy="309.3" r="16.52" fill="#bed7bf" fill-opacity="0.3" stroke="#303030" stroke-opacity="0.9" stroke-width="1.0"/>
<circle cx="359.1" cy="313" r="16.52" fill="#bed7bf" fill-opacity="0.3" stroke="#303030" stroke-opacity="0.9" stroke-width="1.0"/>
<circle cx="391.9" cy="317" r="16.52" fill="#bed7bf" fill-opacity="0.3" stroke="#303030" stroke-opacity="0.9" stroke-width="1.0"/>
<circle cx="269.9" cy="303.8" r="16.52" fill="#bed7bf" fill-opacity="0.3" stroke="#a0a0a0" stroke-width="0.8"/>
<circle cx="266.5" cy="327.6" r="16.52" fill="#bed7bf" fill-opacity="0.3" stroke="#303030" stroke-opacity="0.9" stroke-width="1.0"/>
<circle cx="299.5" cy="322.9" r="16.52" fill="#bed7bf" fill-opacity="0.3" stroke="#303030" stroke-opacity="0.9" stroke-width="1.0"/>
<circle cx="291.3" cy="344.2" r="16.52" fill="#bed7bf" fill-opacity="0.3" stroke="#303030" stroke-opacity="0.9" stroke-width="1.0"/>
<circle cx="326.1" cy="339.5" r="16.52" fill="#bed7bf" fill-opacity="0.3" stroke="#303030" stroke-opacity="0.9" stroke-width="1.0"/>
<circle cx="359.1" cy="350.7" r="16.52" fill="#bed7bf" fill-opacity="0.3" stroke="#303030" stroke-opacity="0.9" stroke-width="1.0"/>
<circle cx="400.9" cy="347.5" r="16.52" fill="#bed7bf" fill-opacity="0.3" stroke="#303030" stroke-opacity="0.9" stroke-width="1.0"/>
<circle cx="269.5" cy="360.8" r="16.52" fill="#bed7bf" fill-opacity="0.3" stroke="#303030" stroke-opacity="0.9" stroke-width="1.0"/>
<circle cx="313" cy="363.9" r="16.52" fill="#bed7bf" fill-opacity="0.3" stroke="#303030" stroke-opacity="0.9" stroke-width="1.0"/>
<circle cx="338.7" cy="376.7" r="16.52" fill="#bed7bf" fill-opacity="0.3" stroke="#303030" stroke-opacity="0.9" stroke-width="1.0"/>
<circle cx="354.2" cy="385.6" r="16.52" fill="#bed7bf" fill-opacity="0.3" stroke="#303030" stroke-opacity="0.9" stroke-width="1.0"/>
<circle cx="378.6" cy="380.5" r="16.52" fill="#bed7bf" fill-opacity="0.3" stroke="#303030" stroke-opacity="0.9" stroke-width="1.0"/>
<circle cx="406.3" cy="378.6" r="16.52" fill="#bed7bf" fill-opacity="0.3" stroke="#303030" stroke-opacity="0.9" stroke-width="1.0"/>
<circle cx="273.6" cy="386.8" r="16.52" fill="#bed7bf" fill-opacity="0.3" stroke="#303030" stroke-opacity="0.9" stroke-width="1.0"/>
<circle cx="307.2" cy="393" r="16.52" fill="#bed7bf" fill-opacity="0.3" stroke="#303030" stroke-opacity="0.9" stroke-width="1.0"/>
</g>
<rect x="254.3" y="236.7" width="164.15" height="162.6" fill="none" stroke="#b0b0b0" stroke-width="1.0"/>
<path d="M254.3 399.3v-1.6M254.3 236.7v1.6M287.13 399.3v-1.6M287.13 236.7v1.6M319.96 399.3v-1.6M319.96 236.7v1.6M352.79 399.3v-1.6M352.79 236.7v1.6M385.62 399.3v-1.6M385.62 236.7v1.6M418.45 399.3v-1.6M418.45 236.7v1.6M254.3 384.43h1.6M418.45 384.43h-1.6M254.3 368.02h1.6M418.45 368.02h-1.6M254.3 351.6h1.6M418.45 351.6h-1.6M254.3 335.19h1.6M418.45 335.19h-1.6M254.3 318.77h1.6M418.45 318.77h-1.6M254.3 302.36h1.6M418.45 302.36h-1.6M254.3 285.94h1.6M418.45 285.94h-1.6M254.3 269.53h1.6M418.45 269.53h-1.6M254.3 253.11h1.6M418.45 253.11h-1.6M254.3 236.7h1.6M418.45 236.7h-1.6" stroke="#b0b0b0" stroke-width="0.8" fill="none"/>
<rect x="271.6" y="244" width="2.8" height="2.8" fill="none" stroke="#0072BD" stroke-opacity="0.6" stroke-width="0.85"/>
<rect x="313.2" y="249.1" width="2.8" height="2.8" fill="none" stroke="#EDB120" stroke-opacity="0.6" stroke-width="0.85"/>
<rect x="344" y="249.3" width="2.8" height="2.8" fill="none" stroke="#A2142F" stroke-opacity="0.6" stroke-width="0.85"/>
<rect x="376.6" y="249.9" width="2.8" height="2.8" fill="none" stroke="#7E2F8E" stroke-opacity="0.6" stroke-width="0.85"/>
<rect x="405.3" y="261.6" width="2.8" height="2.8" fill="none" stroke="#D95319" stroke-opacity="0.6" stroke-width="0.85"/>
<rect x="268.7" y="272.5" width="2.8" height="2.8" fill="none" stroke="#4DBEEE" stroke-opacity="0.6" stroke-width="0.85"/>
<rect x="303.2" y="269.8" width="2.8" height="2.8" fill="none" stroke="#77AC30" stroke-opacity="0.6" stroke-width="0.85"/>
<rect x="336.2" y="279.9" width="2.8" height="2.8" fill="none" stroke="#77AC30" stroke-opacity="0.6" stroke-width="0.85"/>
<rect x="362.8" y="277.6" width="2.8" height="2.8" fill="none" stroke="#D95319" stroke-opacity="0.6" stroke-width="0.85"/>
<rect x="385.8" y="285.6" width="2.8" height="2.8" fill="none" stroke="#7E2F8E" stroke-opacity="0.6" stroke-width="0.85"/>
<rect x="411.4" y="294.6" width="2.8" height="2.8" fill="none" stroke="#4DBEEE" stroke-opacity="0.6" stroke-width="0.85"/>
<rect x="298.9" y="294.4" width="2.8" height="2.8" fill="none" stroke="#77AC30" stroke-opacity="0.6" stroke-width="0.85"/>
<rect x="327.2" y="307.9" width="2.8" height="2.8" fill="none" stroke="#4DBEEE" stroke-opacity="0.6" stroke-width="0.85"/>
<rect x="357.7" y="311.6" width="2.8" height="2.8" fill="none" stroke="#EDB120" stroke-opacity="0.6" stroke-width="0.85"/>
<rect x="390.5" y="315.6" width="2.8" height="2.8" fill="none" stroke="#0072BD" stroke-opacity="0.6" stroke-width="0.85"/>
<rect x="265.1" y="326.2" width="2.8" height="2.8" fill="none" stroke="#A2142F" stroke-opacity="0.6" stroke-width="0.85"/>
<rect x="298.1" y="321.5" width="2.8" height="2.8" fill="none" stroke="#EDB120" stroke-opacity="0.6" stroke-width="0.85"/>
<rect x="289.9" y="342.8" width="2.8" height="2.8" fill="none" stroke="#4DBEEE" stroke-opacity="0.6" stroke-width="0.85"/>
<rect x="324.7" y="338.1" width="2.8" height="2.8" fill="none" stroke="#0072BD" stroke-opacity="0.6" stroke-width="0.85"/>
<rect x="357.7" y="349.3" width="2.8" height="2.8" fill="none" stroke="#D95319" stroke-opacity="0.6" stroke-width="0.85"/>
<rect x="399.5" y="346.1" width="2.8" height="2.8" fill="none" stroke="#A2142F" stroke-opacity="0.6" stroke-width="0.85"/>
<rect x="268.1" y="359.4" width="2.8" height="2.8" fill="none" stroke="#0072BD" stroke-opacity="0.6" stroke-width="0.85"/>
<rect x="311.6" y="362.5" width="2.8" height="2.8" fill="none" stroke="#77AC30" stroke-opacity="0.6" stroke-width="0.85"/>
<rect x="337.3" y="375.3" width="2.8" height="2.8" fill="none" stroke="#A2142F" stroke-opacity="0.6" stroke-width="0.85"/>
<rect x="352.8" y="384.2" width="2.8" height="2.8" fill="none" stroke="#EDB120" stroke-opacity="0.6" stroke-width="0.85"/>
<rect x="377.2" y="379.1" width="2.8" height="2.8" fill="none" stroke="#7E2F8E" stroke-opacity="0.6" stroke-width="0.85"/>
<rect x="404.9" y="377.2" width="2.8" height="2.8" fill="none" stroke="#7E2F8E" stroke-opacity="0.6" stroke-width="0.85"/>
<rect x="272.2" y="385.4" width="2.8" height="2.8" fill="none" stroke="#D95319" stroke-opacity="0.6" stroke-width="0.85"/>
<rect x="305.8" y="391.6" width="2.8" height="2.8" fill="none" stroke="#D95319" stroke-opacity="0.6" stroke-width="0.85"/>
<g font-family="Liberation Sans" font-weight="bold" font-size="8.74" fill="#444444" stroke="#444444" stroke-width="0.25"><text transform="translate(254.3 410.83) scale(0.84 1)" text-anchor="middle">0</text><text transform="translate(287.13 410.83) scale(0.84 1)" text-anchor="middle">20</text><text transform="translate(319.96 410.83) scale(0.84 1)" text-anchor="middle">40</text><text transform="translate(352.79 410.83) scale(0.84 1)" text-anchor="middle">60</text><text transform="translate(385.62 410.83) scale(0.84 1)" text-anchor="middle">80</text><text transform="translate(418.45 410.83) scale(0.84 1)" text-anchor="middle">100</text><text transform="translate(251.7 388.07) scale(0.84 1)" text-anchor="end">10</text><text transform="translate(251.7 371.65) scale(0.84 1)" text-anchor="end">20</text><text transform="translate(251.7 355.24) scale(0.84 1)" text-anchor="end">30</text><text transform="translate(251.7 338.82) scale(0.84 1)" text-anchor="end">40</text><text transform="translate(251.7 322.41) scale(0.84 1)" text-anchor="end">50</text><text transform="translate(251.7 305.99) scale(0.84 1)" text-anchor="end">60</text><text transform="translate(251.7 289.58) scale(0.84 1)" text-anchor="end">70</text><text transform="translate(251.7 273.16) scale(0.84 1)" text-anchor="end">80</text><text transform="translate(251.7 256.75) scale(0.84 1)" text-anchor="end">90</text><text transform="translate(251.7 240.33) scale(0.84 1)" text-anchor="end">100</text></g>
<text x="262.1" y="234.1" textLength="149" lengthAdjust="spacingAndGlyphs" font-family="Liberation Serif" font-weight="bold" font-size="9.24" fill="#111" stroke="#111" stroke-width="0.3">Coverage map optimized based on LCSO</text>
<text x="336.38" y="421.54" text-anchor="middle" font-family="Liberation Serif" font-weight="bold" font-size="8.9" fill="#262626" stroke="#262626" stroke-width="0.15">X(m)</text>
<text transform="translate(234.67 317.8) rotate(-90)" text-anchor="middle" font-family="Liberation Serif" font-weight="bold" font-size="9.3" fill="#262626" stroke="#262626" stroke-width="0.15">Y(m)</text>
<text x="326.6" y="436.66" text-anchor="middle" font-family="Liberation Serif" font-weight="normal" font-size="15.2" fill="#111" stroke="#111" stroke-width="0">(e)</text>
</g>
</svg></body></html>
